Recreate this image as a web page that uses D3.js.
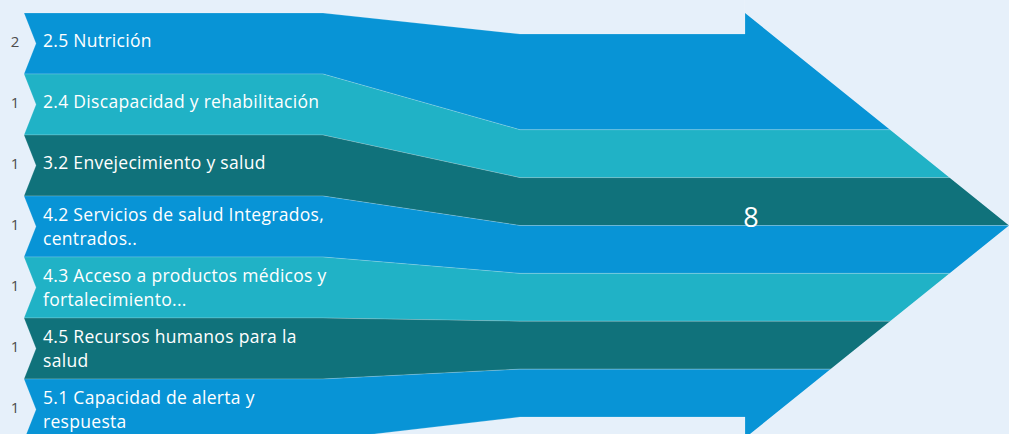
<!DOCTYPE html>
<html>
<head>
<meta charset="utf-8">
<script src="https://cdn.jsdelivr.net/npm/d3@7"></script>
<style>
  body { margin: 0; background: #e6f0fa; }
  svg { display: block; }
</style>
</head>
<body>
<svg width="1009" height="434"></svg>
<script>
// data
var categories = ["2.5 Nutrición", "2.4 Discapacidad y rehabilitación", "3.2 Envejecimiento y salud",
                  "4.2 Servicios de salud Integrados, centrados..", "4.3 Acceso a productos médicos y fortalecimiento...",
                  "4.5 Recursos humanos para la salud", "5.1 Capacidad de alerta y respuesta"];
var values = [2, 1, 1, 1, 1, 1, 1];
var total = d3.sum(values);

var palette = ["#0894d6", "#20b2c6", "#10727b"];

var svg = d3.select("svg"),
    width = +svg.attr("width"),
    height = +svg.attr("height");

// layout
var xLeft = 24, xNotch = 36, xBandEnd = 323, xMid = 520, xHead = 745, xTip = 1009;

var yLeft = d3.scaleBand()
    .domain(categories)
    .range([13, 440]);

var yMid = d3.scaleLinear()
    .domain([0, total])
    .range([34, 417]);

var cum = d3.cumsum(values);
var starts = cum.map(function(c, i){ return c - values[i]; });
var midC = (yMid(0) + yMid(total)) / 2,
    headHalf = midC - 13;

svg.append("defs").append("clipPath")
    .attr("id", "arrowClip")
    .append("polygon")
    .attr("points", [[0, -20], [xHead, -20], [xHead, midC - headHalf], [xTip, midC],
                     [xHead, midC + headHalf], [xHead, height + 40], [0, height + 40]].join(" "));

function bandPoints(d, i){
    var y0 = yLeft(d), y1 = y0 + yLeft.bandwidth();
    var m0 = yMid(starts[i]), m1 = yMid(cum[i]);
    var pts = [[xLeft, y0], [xBandEnd, y0], [xMid, m0]];
    if(i === 0) pts.push([xHead, m0], [xHead, -20], [xTip, -20]);
    else pts.push([xTip, m0]);
    if(i === categories.length - 1) pts.push([xTip, height + 40], [xHead, height + 40], [xHead, m1]);
    else pts.push([xTip, m1]);
    pts.push([xMid, m1], [xBandEnd, y1], [xLeft, y1], [xNotch, (y0 + y1) / 2]);
    return pts.join(" ");
}

svg.append("g")
    .attr("class", "bands")
    .attr("clip-path", "url(#arrowClip)")
    .selectAll("polygon")
    .data(categories)
    .enter().append("polygon")
    .attr("points", bandPoints)
    .attr("fill", function(d, i){ return palette[i % 3]; })
    .attr("stroke", "rgba(255,255,255,0.22)")
    .attr("stroke-width", 0.8);

// category labels, wrapped
var labels = svg.append("g")
    .attr("class", "labels")
    .selectAll("text")
    .data(categories)
    .enter().append("text")
    .attr("fill", "#fff")
    .style("font-family", "'Open Sans', sans-serif")
    .style("font-size", "17.5px")
    .style("letter-spacing", "0.3px");

labels.each(function(d, i){
    var text = d3.select(this),
        words = d.split(" "),
        lines = [], line = [];
    var probe = text.append("tspan");
    words.forEach(function(w){
        line.push(w);
        probe.text(line.join(" "));
        if(probe.node().getComputedTextLength() > 288 && line.length > 1){
            line.pop();
            lines.push(line.join(" "));
            line = [w];
        }
    });
    lines.push(line.join(" "));
    probe.remove();
    var mid = yLeft(d) + yLeft.bandwidth() / 2;
    var first = mid + 3 - (lines.length - 1) * 9;
    lines.forEach(function(l, k){
        text.append("tspan")
            .attr("x", 43)
            .attr("y", first + k * 24)
            .text(l);
    });
});

// value labels on the left
svg.append("g")
    .selectAll("text")
    .data(values)
    .enter().append("text")
    .attr("x", 15)
    .attr("y", function(d, i){ return yLeft(categories[i]) + yLeft.bandwidth() / 2 + 3; })
    .attr("text-anchor", "middle")
    .attr("fill", "#4d4d4d")
    .style("font-family", "'Open Sans', sans-serif")
    .style("font-size", "15px")
    .text(function(d){ return d; });

// total
svg.append("text")
    .attr("x", 751)
    .attr("y", midC + 1)
    .attr("text-anchor", "middle")
    .attr("fill", "#fff")
    .style("font-family", "'Open Sans', sans-serif")
    .style("font-size", "27px")
    .text(total);
</script>
</body>
</html>
